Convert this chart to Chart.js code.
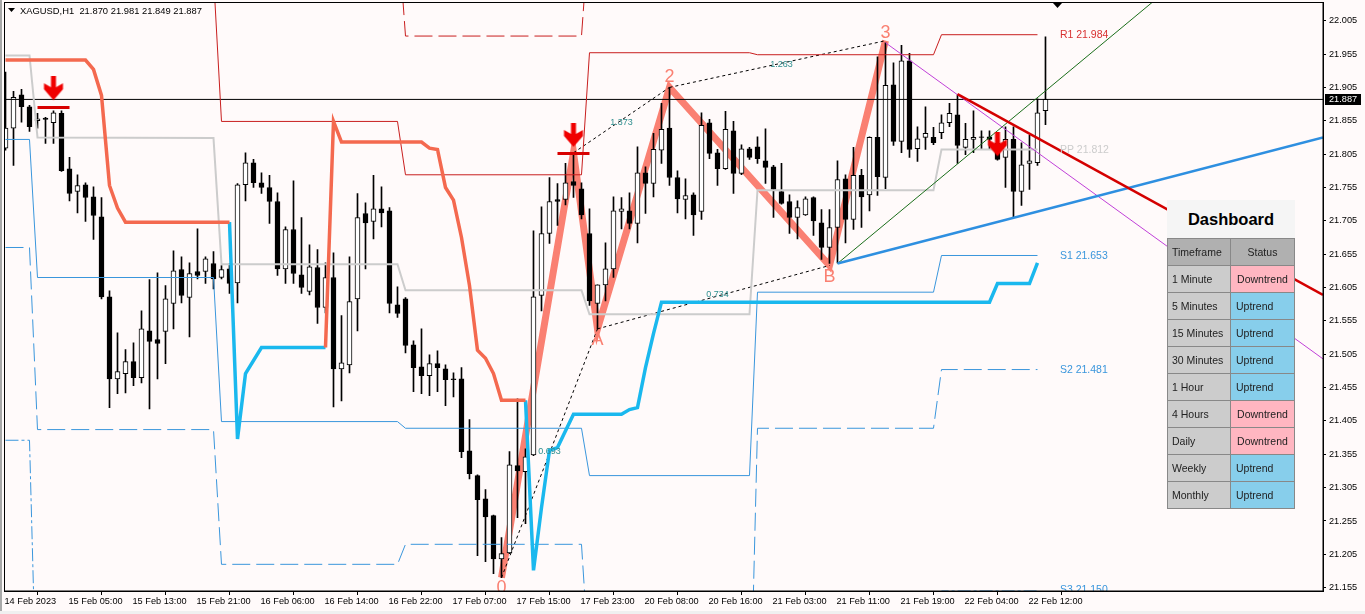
<!DOCTYPE html>
<html>
<head>
<meta charset="utf-8">
<title>XAGUSD,H1</title>
<script src="https://cdn.jsdelivr.net/npm/chart.js@4/dist/chart.umd.min.js"></script>
<style>
    html, body { margin: 0; padding: 0; background: #f0f0f0; overflow: hidden; }
    #wrap { position: relative; width: 1365px; height: 614px; }
    #chart { display: block; }
    #dash { position: absolute; left: 1167px; top: 200px; width: 128px; font: 10.5px "Liberation Sans", sans-serif; color: #222; }
    #dash .head { height: 38px; line-height: 38px; background: #f5f5f5; text-align: center; font: bold 16.5px/38px "Liberation Sans", sans-serif; color: #000; }
    #dash table { border-collapse: collapse; width: 128px; table-layout: fixed; }
    #dash td { border: 1px solid #888; height: 27px; padding: 0 0 0 4px; box-sizing: border-box; white-space: nowrap; overflow: hidden; }
    #dash td.tf { width: 63px; background: #ccc; }
    #dash td.up { background: #87ceeb; padding-left: 5px; }
    #dash td.down { background: #ffb6c1; text-align: center; padding: 0; }
    #dash tr.top td { background: #b0b0b0; }
    #dash tr.top td.st { text-align: center; padding: 0; }
</style>
</head>
<body>
<div id="wrap">
    <canvas id="chart" width="1365" height="614"></canvas>
    <div id="dash"></div>
</div>
<script>
// Candles, one hour per bar
const opens = [
    21.814, 21.844, 21.894, 21.876, 21.855, 21.859, 21.852, 21.866, 21.783, 21.749,
    21.759, 21.741, 21.711, 21.591, 21.468, 21.476, 21.494, 21.470, 21.540, 21.527,
    21.539, 21.581, 21.632, 21.590, 21.629, 21.629, 21.641, 21.620, 21.633, 21.612,
    21.759, 21.792, 21.762, 21.755, 21.734, 21.633, 21.692, 21.624, 21.599, 21.635,
    21.575, 21.620, 21.483, 21.489, 21.588, 21.716, 21.704, 21.723, 21.720, 21.579,
    21.588, 21.519, 21.486, 21.473, 21.491, 21.483, 21.468, 21.468, 21.360, 21.323,
    21.288, 21.263, 21.198, 21.207, 21.338, 21.329, 21.354, 21.593, 21.686, 21.737,
    21.737, 21.764, 21.753, 21.686, 21.581, 21.609, 21.633, 21.719, 21.720, 21.701,
    21.777, 21.761, 21.811, 21.844, 21.770, 21.737, 21.744, 21.719, 21.852, 21.807,
    21.783, 21.840, 21.776, 21.813, 21.816, 21.795, 21.786, 21.749, 21.734, 21.710,
    21.714, 21.740, 21.702, 21.665, 21.695, 21.768, 21.707, 21.773, 21.744, 21.830,
    21.770, 21.909, 21.824, 21.945, 21.813, 21.830, 21.830, 21.837, 21.852, 21.864,
    21.815, 21.827, 21.831, 21.831, 21.821, 21.800, 21.827, 21.749, 21.791, 21.792,
    21.870
];
const highs = [
    21.928, 21.899, 21.902, 21.878, 21.866, 21.860, 21.870, 21.870, 21.800, 21.774,
    21.762, 21.756, 21.740, 21.600, 21.537, 21.512, 21.522, 21.570, 21.617, 21.627,
    21.608, 21.660, 21.651, 21.642, 21.693, 21.651, 21.659, 21.638, 21.641, 21.761,
    21.807, 21.797, 21.777, 21.773, 21.747, 21.696, 21.765, 21.710, 21.669, 21.662,
    21.642, 21.657, 21.563, 21.651, 21.746, 21.732, 21.773, 21.756, 21.725, 21.606,
    21.590, 21.525, 21.543, 21.504, 21.510, 21.489, 21.477, 21.485, 21.407, 21.324,
    21.302, 21.264, 21.230, 21.359, 21.438, 21.363, 21.690, 21.726, 21.770, 21.761,
    21.791, 21.807, 21.762, 21.723, 21.609, 21.672, 21.741, 21.740, 21.747, 21.816,
    21.786, 21.836, 21.881, 21.905, 21.780, 21.768, 21.747, 21.867, 21.857, 21.812,
    21.869, 21.854, 21.819, 21.815, 21.831, 21.843, 21.788, 21.791, 21.744, 21.735,
    21.741, 21.741, 21.722, 21.722, 21.795, 21.774, 21.815, 21.782, 21.831, 21.951,
    21.972, 21.942, 21.968, 21.956, 21.846, 21.876, 21.845, 21.864, 21.881, 21.894,
    21.851, 21.870, 21.840, 21.840, 21.837, 21.846, 21.846, 21.822, 21.833, 21.888,
    21.981
];
const lows = [
    21.811, 21.788, 21.853, 21.839, 21.844, 21.821, 21.821, 21.779, 21.735, 21.717,
    21.704, 21.677, 21.588, 21.425, 21.446, 21.447, 21.458, 21.462, 21.423, 21.468,
    21.491, 21.543, 21.582, 21.531, 21.618, 21.611, 21.603, 21.618, 21.596, 21.582,
    21.735, 21.755, 21.746, 21.701, 21.623, 21.611, 21.611, 21.596, 21.594, 21.551,
    21.567, 21.426, 21.435, 21.477, 21.540, 21.633, 21.678, 21.696, 21.567, 21.560,
    21.507, 21.449, 21.446, 21.443, 21.449, 21.428, 21.441, 21.350, 21.318, 21.203,
    21.194, 21.176, 21.170, 21.206, 21.260, 21.251, 21.353, 21.570, 21.671, 21.698,
    21.729, 21.740, 21.708, 21.578, 21.543, 21.585, 21.620, 21.693, 21.693, 21.672,
    21.716, 21.741, 21.791, 21.758, 21.717, 21.708, 21.683, 21.707, 21.798, 21.758,
    21.782, 21.746, 21.774, 21.797, 21.791, 21.761, 21.710, 21.730, 21.686, 21.678,
    21.713, 21.683, 21.647, 21.641, 21.642, 21.672, 21.692, 21.695, 21.720, 21.743,
    21.753, 21.818, 21.807, 21.800, 21.794, 21.812, 21.819, 21.828, 21.846, 21.791,
    21.804, 21.807, 21.813, 21.813, 21.796, 21.755, 21.711, 21.728, 21.752, 21.788,
    21.849
];
const closes = [
    21.844, 21.890, 21.876, 21.846, 21.858, 21.857, 21.867, 21.780, 21.746, 21.758,
    21.740, 21.713, 21.591, 21.468, 21.479, 21.494, 21.470, 21.543, 21.524, 21.521,
    21.588, 21.630, 21.593, 21.626, 21.623, 21.648, 21.618, 21.632, 21.611, 21.759,
    21.792, 21.762, 21.755, 21.734, 21.633, 21.692, 21.626, 21.605, 21.636, 21.575,
    21.620, 21.483, 21.492, 21.584, 21.710, 21.702, 21.723, 21.717, 21.581, 21.566,
    21.518, 21.485, 21.473, 21.491, 21.485, 21.467, 21.467, 21.359, 21.326, 21.287,
    21.261, 21.198, 21.206, 21.339, 21.330, 21.351, 21.591, 21.686, 21.734, 21.734,
    21.762, 21.758, 21.714, 21.585, 21.609, 21.633, 21.720, 21.723, 21.701, 21.777,
    21.761, 21.812, 21.842, 21.770, 21.738, 21.743, 21.714, 21.848, 21.806, 21.783,
    21.842, 21.776, 21.813, 21.800, 21.798, 21.785, 21.752, 21.731, 21.710, 21.725,
    21.738, 21.705, 21.665, 21.695, 21.767, 21.707, 21.773, 21.741, 21.830, 21.771,
    21.908, 21.824, 21.945, 21.812, 21.828, 21.836, 21.822, 21.852, 21.866, 21.818,
    21.827, 21.830, 21.830, 21.827, 21.797, 21.827, 21.749, 21.789, 21.795, 21.867,
    21.887
];

// Axis labels
const xTickBars = [0, 8, 16, 24, 32, 40, 48, 56, 64, 72, 80, 88, 96, 104, 112, 120, 128];
const xTickLabels = ['14 Feb 2023', '15 Feb 05:00', '15 Feb 13:00', '15 Feb 21:00', '16 Feb 06:00', '16 Feb 14:00',
    '16 Feb 22:00', '17 Feb 07:00', '17 Feb 15:00', '17 Feb 23:00', '20 Feb 08:00', '20 Feb 16:00',
    '21 Feb 03:00', '21 Feb 11:00', '21 Feb 19:00', '22 Feb 04:00', '22 Feb 12:00'];
const yTickValues = [22.005, 21.955, 21.905, 21.855, 21.805, 21.755, 21.705, 21.655, 21.605, 21.555,
    21.505, 21.455, 21.405, 21.355, 21.305, 21.255, 21.205, 21.155];
const lastPrice = 21.887;

// Pivot levels, off-chart vertices just carry the slope out of the frame
const r1Bars = [26, 27, 49, 50, 72, 73, 93, 94, 116, 117, 129];
const r1Vals = [22.073, 21.854, 21.854, 21.774, 21.774, 21.957, 21.957, 21.954, 21.954, 21.984, 21.984];
const r2Bars = [49, 50, 72, 73];
const r2Vals = [22.148, 21.982, 21.982, 22.148];
const ppBars = [0, 3, 4, 26, 27, 49, 50, 72, 73, 93, 94, 116, 117, 129];
const ppVals = [21.953, 21.953, 21.830, 21.829, 21.640, 21.640, 21.601, 21.601, 21.565, 21.565, 21.751, 21.751, 21.812, 21.812];
const s1Bars = [0, 3, 4, 26, 27, 49, 50, 72, 73, 93, 94, 116, 117, 129];
const s1Vals = [21.827, 21.827, 21.620, 21.620, 21.404, 21.404, 21.394, 21.394, 21.323, 21.323, 21.598, 21.598, 21.653, 21.653];
const s2Bars = [0, 3, 4, 26, 27, 49, 50, 72, 73, 93, 94, 116, 117, 129];
const s2Vals = [21.665, 21.665, 21.392, 21.392, 21.190, 21.190, 21.220, 21.220, 21.033, 20.910, 21.394, 21.394, 21.482, 21.482];
const s3Bars = [0, 3, 4, 116, 117, 129];
const s3Vals = [21.376, 21.376, 20.926, 20.926, 21.150, 21.150];

// Trend stop line, orange while above price and blue while below
const stopDownBars = [0, 10, 11, 12, 13, 14, 15, 28];
const stopDownVals = [21.946, 21.946, 21.932, 21.893, 21.758, 21.724, 21.703, 21.703];
const stopDownBars2 = [40, 41, 42, 52, 53, 54, 55, 56, 57, 58, 59, 60, 61, 62, 65];
const stopDownVals2 = [21.515, 21.854, 21.823, 21.823, 21.814, 21.812, 21.755, 21.736, 21.680, 21.608, 21.511, 21.499, 21.476, 21.436, 21.436];
const stopUpBars = [28, 29, 30, 32, 40];
const stopUpVals = [21.703, 21.378, 21.476, 21.515, 21.515];
const stopUpBars2 = [65, 66, 67, 68, 69, 71, 77, 78, 79, 80, 81, 82, 123, 124, 128, 129];
const stopUpVals2 = [21.436, 21.181, 21.275, 21.361, 21.365, 21.415, 21.415, 21.422, 21.425, 21.485, 21.536, 21.583, 21.583, 21.611, 21.611, 21.642];

// Harmonic pattern: 0, 1, A, 2, B, 3
const waveBars = [62, 71, 74, 83, 103, 110];
const waveVals = [21.170, 21.807, 21.543, 21.905, 21.638, 21.975];
const waveNames = ['0', 'A', '2', 'B', '3'];
const waveNameBars = [62, 74, 83, 103, 110];
const waveNameVals = [21.154, 21.527, 21.920, 21.621, 21.987];
const ratioNames = ['0.693', '1.373', '0.734', '1.263'];
const ratioBars = [68, 77, 89, 97];
const ratioVals = [21.359, 21.853, 21.594, 21.940];

// Trend lines run out to the right edge
const lastBar = 164.69;
const blueTrendBars = [104, lastBar];
const blueTrendVals = [21.641, 21.830];
const redTrendBars = [119, lastBar];
const redTrendVals = [21.895, 21.594];
const purpleTrendBars = [110, lastBar];
const purpleTrendVals = [21.972, 21.498];
const greenTrendBars = [104, lastBar];
const greenTrendVals = [21.641, 22.245];

// Sell signals
const arrowBars = [6, 71, 124];
const arrowVals = [21.903, 21.833, 21.819];
const signal1Bars = [4, 8];
const signal1Vals = [21.875, 21.875];
const signal2Bars = [69, 73];
const signal2Vals = [21.806, 21.806];

// Pivot labels
const pivotNames = ['R1 21.984', 'PP 21.812', 'S1 21.653', 'S2 21.481', 'S3 21.150'];
const pivotVals = [21.983, 21.811, 21.652, 21.481, 21.151];
const pivotColors = ['#d83030', '#cccccc', '#3a96dc', '#3a96dc', '#3a96dc'];
const pivotBar = 131.8;

// Dashboard table
const timeframes = ['1 Minute', '5 Minutes', '15 Minutes', '30 Minutes', '1 Hour', '4 Hours', 'Daily', 'Weekly', 'Monthly'];
const trends = ['Downtrend', 'Uptrend', 'Uptrend', 'Uptrend', 'Uptrend', 'Downtrend', 'Downtrend', 'Uptrend', 'Uptrend'];

const axisFont = { family: '"Liberation Sans", sans-serif', size: 9.2 };
const labelFont = '9.2px "Liberation Sans", sans-serif';

function pts(bars, vals) {
    return bars.map((b, i) => ({ x: b, y: vals[i] }));
}

function line(bars, vals, color, width, order, dash) {
    return {
        type: 'line',
        data: pts(bars, vals),
        borderColor: color,
        borderWidth: width,
        borderDash: dash || [],
        pointRadius: 0,
        tension: 0,
        clip: 0,
        borderJoinStyle: 'miter',
        order: order
    };
}

// Red down arrow used as a point style
function makeArrow() {
    const c = document.createElement('canvas');
    c.width = 22;
    c.height = 25;
    const g = c.getContext('2d');
    g.fillStyle = '#f00000';
    g.beginPath();
    g.moveTo(8.5, 0);
    g.lineTo(13.5, 0);
    g.lineTo(13.5, 11);
    g.lineTo(20.5, 7);
    g.lineTo(20.5, 13);
    g.lineTo(11, 24);
    g.lineTo(1.5, 13);
    g.lineTo(1.5, 7);
    g.lineTo(8.5, 11);
    g.closePath();
    g.fill();
    return c;
}

// Window background and the plot frame
const framePlugin = {
    id: 'frame',
    beforeDraw(chart) {
        const ctx = chart.ctx;
        ctx.save();
        ctx.fillStyle = '#fffafa';
        ctx.fillRect(0, 0, 1365, 611);
        ctx.fillStyle = '#a8a8a8';
        ctx.fillRect(0, 0, 2, 611);
        ctx.restore();
    },
    afterDraw(chart) {
        const ctx = chart.ctx;
        const a = chart.chartArea;
        const y = chart.scales.y;
        ctx.save();
        ctx.strokeStyle = '#000';
        ctx.lineWidth = 1;
        ctx.strokeRect(a.left, a.top, a.right - a.left, a.bottom - a.top);

        // Last price tag on the axis
        const py = y.getPixelForValue(lastPrice);
        ctx.fillStyle = '#000';
        ctx.fillRect(a.right + 2, Math.floor(py) - 5, 36, 11);
        ctx.fillStyle = '#fff';
        ctx.font = labelFont;
        ctx.textBaseline = 'middle';
        ctx.fillText(lastPrice.toFixed(3), a.right + 6, py + 0.5);

        // Chart caption
        ctx.fillStyle = '#000';
        ctx.beginPath();
        ctx.moveTo(8, 8);
        ctx.lineTo(15, 8);
        ctx.lineTo(11.5, 12);
        ctx.closePath();
        ctx.fill();
        ctx.beginPath();
        ctx.moveTo(1053, 3);
        ctx.lineTo(1062, 3);
        ctx.lineTo(1057.5, 8);
        ctx.closePath();
        ctx.fill();
        ctx.font = '9.4px "Liberation Sans", sans-serif';
        ctx.fillText('XAGUSD,H1  21.870 21.981 21.849 21.887', 20, 11);
        ctx.restore();
    }
};

// Wave names, ratios and pivot names, clipped to the plot like the levels
const textPlugin = {
    id: 'chartText',
    afterDatasetsDraw(chart) {
        const ctx = chart.ctx;
        const a = chart.chartArea;
        const x = chart.scales.x;
        const y = chart.scales.y;
        ctx.save();
        ctx.beginPath();
        ctx.rect(a.left, a.top, a.right - a.left, a.bottom - a.top);
        ctx.clip();
        ctx.textBaseline = 'middle';

        ctx.font = '18px "Liberation Sans", sans-serif';
        ctx.fillStyle = '#fa8072';
        ctx.textAlign = 'center';
        waveNames.forEach((n, i) => {
            ctx.fillText(n, x.getPixelForValue(waveNameBars[i]), y.getPixelForValue(waveNameVals[i]));
        });

        ctx.font = '9px "Liberation Sans", sans-serif';
        ctx.fillStyle = '#2f8f8f';
        ratioNames.forEach((n, i) => {
            ctx.fillText(n, x.getPixelForValue(ratioBars[i]), y.getPixelForValue(ratioVals[i]));
        });

        ctx.font = '10.5px "Liberation Sans", sans-serif';
        ctx.textAlign = 'left';
        pivotNames.forEach((n, i) => {
            ctx.fillStyle = pivotColors[i];
            ctx.fillText(n, x.getPixelForValue(pivotBar), y.getPixelForValue(pivotVals[i]));
        });
        ctx.restore();
    }
};

const barIndex = opens.map((v, i) => i);

new Chart(document.getElementById('chart'), {
    type: 'bar',
    data: {
        datasets: [
            {
                type: 'line',
                data: pts(arrowBars, arrowVals),
                showLine: false,
                pointStyle: makeArrow(),
                order: 0
            },
            line(signal1Bars, signal1Vals, '#d80000', 3, 1),
            line(signal2Bars, signal2Vals, '#d80000', 3, 1),
            line(redTrendBars, redTrendVals, '#d40000', 2.5, 2),
            line(blueTrendBars, blueTrendVals, '#2e8fe0', 2.5, 2),
            line(purpleTrendBars, purpleTrendVals, '#c040d8', 1, 3),
            line(greenTrendBars, greenTrendVals, '#1a6e1a', 1, 3),
            line(stopDownBars, stopDownVals, '#f4694f', 3.5, 4),
            line(stopDownBars2, stopDownVals2, '#f4694f', 3.5, 4),
            line(stopUpBars, stopUpVals, '#1ab8ee', 3.5, 4),
            line(stopUpBars2, stopUpVals2, '#1ab8ee', 3.5, 4),
            line(ppBars, ppVals, '#cccccc', 2, 5),
            line(r1Bars, r1Vals, '#c81e1e', 1, 5),
            line(r2Bars, r2Vals, '#c81e1e', 1, 5, [18, 6]),
            line(s1Bars, s1Vals, '#3a96dc', 1, 5),
            line(s2Bars, s2Vals, '#3a96dc', 1, 5, [18, 6]),
            line(s3Bars, s3Vals, '#3a96dc', 1, 5, [13, 3, 3, 3]),
            line([barIndex[0] - 1, lastBar], [lastPrice, lastPrice], '#000', 1, 5),
            line([waveBars[0], waveBars[2]], [waveVals[0], waveVals[2]], '#000', 1, 6, [3, 3]),
            line([waveBars[1], waveBars[3]], [waveVals[1], waveVals[3]], '#000', 1, 6, [3, 3]),
            line([waveBars[2], waveBars[4]], [waveVals[2], waveVals[4]], '#000', 1, 6, [3, 3]),
            line([waveBars[3], waveBars[5]], [waveVals[3], waveVals[5]], '#000', 1, 6, [3, 3]),
            {
                // candle bodies
                type: 'bar',
                data: barIndex.map(i => ({ x: i, y: [opens[i], closes[i]] })),
                backgroundColor: barIndex.map(i => closes[i] > opens[i] ? '#ffffff' : '#000000'),
                borderColor: '#000',
                borderWidth: 1,
                borderSkipped: false,
                barThickness: 5,
                grouped: false,
                order: 7
            },
            {
                // candle wicks
                type: 'bar',
                data: barIndex.map(i => ({ x: i, y: [lows[i], highs[i]] })),
                backgroundColor: '#000',
                borderWidth: 0,
                barThickness: 1,
                grouped: false,
                order: 8
            },
            line(waveBars, waveVals, '#fa8072', 7, 9)
        ]
    },
    options: {
        responsive: false,
        animation: false,
        devicePixelRatio: 1,
        layout: { autoPadding: false, padding: { left: 4.5, top: 2.5, right: 0, bottom: 0 } },
        plugins: { legend: { display: false }, tooltip: { enabled: false } },
        scales: {
            x: {
                type: 'linear',
                offset: false,
                min: -0.125,
                max: lastBar,
                afterBuildTicks(scale) {
                    scale.ticks = xTickBars.map(v => ({ value: v }));
                },
                afterFit(scale) {
                    scale.height = 23;
                    scale.paddingLeft = 0;
                    scale.paddingRight = 0;
                },
                grid: { drawOnChartArea: false, color: '#000', tickLength: 4 },
                border: { color: '#000' },
                ticks: {
                    autoSkip: false,
                    maxRotation: 0,
                    minRotation: 0,
                    align: 'start',
                    labelOffset: -1,
                    padding: 1,
                    color: '#000',
                    font: axisFont,
                    callback: (v, i) => xTickLabels[i]
                }
            },
            y: {
                position: 'right',
                min: 21.15,
                max: 22.0323,
                afterBuildTicks(scale) {
                    scale.ticks = yTickValues.map(v => ({ value: v }));
                },
                afterFit(scale) {
                    scale.width = 42;
                    scale.paddingTop = 0;
                    scale.paddingBottom = 0;
                },
                grid: { drawOnChartArea: false, color: '#000', tickLength: 3 },
                border: { color: '#000' },
                ticks: {
                    autoSkip: false,
                    padding: 3,
                    color: '#000',
                    font: axisFont,
                    callback: v => v.toFixed(3)
                }
            }
        }
    },
    plugins: [framePlugin, textPlugin]
});

// Dashboard panel
let rows = '<tr class="top"><td class="tf">Timeframe</td><td class="st">Status</td></tr>';
timeframes.forEach((t, i) => {
    rows += `<tr><td class="tf">${t}</td><td class="${trends[i] === 'Uptrend' ? 'up' : 'down'}">${trends[i]}</td></tr>`;
});
document.getElementById('dash').innerHTML = `<div class="head">Dashboard</div><table>${rows}</table>`;
</script>
</body>
</html>
